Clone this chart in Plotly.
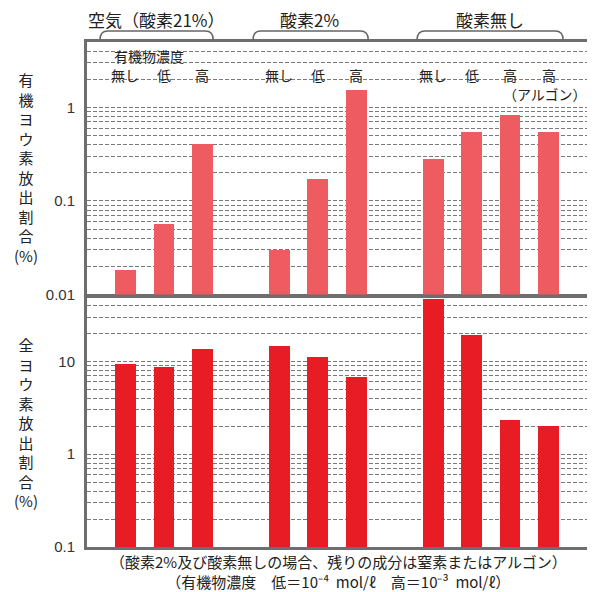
import math
import plotly.graph_objects as go

# ---------------- data ----------------
groups = ["空気（酸素21%）", "酸素2%", "酸素無し"]
levels_per_group = [["無し", "低", "高"], ["無し", "低", "高"], ["無し", "低", "高", "高"]]
organic_release = [0.0185, 0.057, 0.41, 0.030, 0.17, 1.55, 0.28, 0.55, 0.82, 0.55]   # 有機ヨウ素放出割合 (%)
total_release = [9.6, 8.8, 13.7, 14.7, 11.3, 6.8, 47.0, 19.5, 2.38, 2.05]           # 全ヨウ素放出割合 (%)
top_ticks = [0.01, 0.1, 1]
top_ticktext = ["0.01", "0.1", "1"]
bottom_ticks = [0.1, 1, 10]
bottom_ticktext = ["0.1", "1", "10"]
argon_note = "（アルゴン）"
conc_title = "有機物濃度"
ytitle_top = "有機ヨウ素放出割合"
ytitle_bottom = "全ヨウ素放出割合"
note1 = "（酸素2%及び酸素無しの場合、残りの成分は窒素またはアルゴン）"
note2 = "（有機物濃度　低＝10⁻⁴\u00a0\u00a0mol/ℓ　高＝10⁻³\u00a0\u00a0mol/ℓ）"

# slot positions derived from group / level structure
slots, labels = [], []
for gi, levs in enumerate(levels_per_group):
    for li, lv in enumerate(levs):
        slots.append(gi * 4 + li)
        labels.append(lv)

# ---------------- layout geometry ----------------
# page body has an 8px margin, so the figure is drawn 8px smaller and
# all window-pixel positions below are mapped relative to the plot area.
OFF = 8
W, H = 595 - OFF, 592 - OFF
L, R, T, B = 87, 590, 42, 547          # plot area in window pixels

def fx(x):
    return (x - L) / (R - L)

def fy(y):
    return (B - y) / (B - T)

CJK = "Noto Sans CJK JP"
NUM = "Liberation Sans, Arial"
TOP_COLOR = "#EE5B60"
BOT_COLOR = "#E81C24"
GRID = "#7a7a7a"
FRAME = "#6e6e6e"

fig = go.Figure()
fig.add_trace(go.Bar(x=slots, y=organic_release, xaxis="x2", yaxis="y2",
                     marker=dict(color=TOP_COLOR, line=dict(width=0)), width=0.54))
fig.add_trace(go.Bar(x=slots, y=total_release, xaxis="x", yaxis="y",
                     marker=dict(color=BOT_COLOR, line=dict(width=0)), width=0.54))

xcommon = dict(range=[-1, 12], showticklabels=False, showgrid=False, zeroline=False,
               showline=True, mirror=True, linewidth=3, linecolor=FRAME, ticks="")
minor = dict(dtick="D1", showgrid=True, gridcolor=GRID, griddash="4px,2px", gridwidth=1, ticks="")
ycommon = dict(type="log", showline=True, mirror=True, linewidth=3, linecolor=FRAME,
               showgrid=True, gridcolor=GRID, griddash="4px,2px", gridwidth=1,
               ticks="", ticklabelstandoff=6, zeroline=False,
               tickfont=dict(family=NUM, size=15, color="#333"), minor=minor)

top_bottom_px = 294.5
bot_top_px = 296.5
fig.update_layout(
    width=W, height=H,
    margin=dict(l=L - OFF, r=(595 - R), t=T - OFF, b=(592 - B)),
    paper_bgcolor="white", plot_bgcolor="white",
    showlegend=False, bargap=0,
    xaxis=dict(anchor="y", **xcommon),
    xaxis2=dict(anchor="y2", matches="x", **xcommon),
    yaxis=dict(domain=[0, fy(bot_top_px)], range=[-1, math.log10(50)],
               tickvals=bottom_ticks, ticktext=bottom_ticktext, **ycommon),
    yaxis2=dict(domain=[fy(top_bottom_px), 1], range=[-2, math.log10(5)],
                tickvals=top_ticks, ticktext=top_ticktext, **ycommon),
)

shapes = []
# white label boxes inside the top panel (between grid and bars)
for (x0, x1, y0, y1) in [(101, 214, 45, 85), (254, 370, 61, 85), (419, 566, 61, 85), (514, 588, 85, 104)]:
    shapes.append(dict(type="rect", xref="paper", yref="paper", x0=fx(x0), x1=fx(x1),
                       y0=fy(y1), y1=fy(y0), fillcolor="white", line=dict(width=0), layer="between"))

# group brackets above the plot
def bracket(x0, x1, ytop=31, ybot=40, r=8):
    pts = (f"M {fx(x0)},{fy(ybot)} Q {fx(x0)},{fy(ytop)} {fx(x0 + r)},{fy(ytop)} "
           f"L {fx(x1 - r)},{fy(ytop)} Q {fx(x1)},{fy(ytop)} {fx(x1)},{fy(ybot)}")
    return dict(type="path", xref="paper", yref="paper", path=pts,
                line=dict(color="#666", width=1.5), layer="above")

for (a, b) in [(100, 214), (254, 370), (419, 566)]:
    shapes.append(bracket(a, b))
fig.update_layout(shapes=shapes)

def note(x, y, text, size=14, xanchor="center", xref="paper", family=CJK):
    return dict(x=x if xref != "paper" else fx(x), y=fy(y), xref=xref, yref="paper", text=text,
                showarrow=False, xanchor=xanchor, yanchor="middle",
                font=dict(family=family, size=size, color="#222"))

ann = []
header_x = [157, 311, 492]
for g, hx in zip(groups, header_x):
    ann.append(note(hx, 20, g, size=17))
# concentration labels
ann.append(note(112, 56, conc_title, xanchor="left"))
for s, lb in zip(slots, labels):
    ann.append(note(s, 75, lb, xref="x2"))
ann.append(note(592, 94, argon_note, xanchor="right"))
# y titles
ann.append(note(26, 167, "<br>".join(list(ytitle_top)) + "<br>(%)", size=15))
ann.append(note(26, 422, "<br>".join(list(ytitle_bottom)) + "<br>(%)", size=15))
# notes (two centred lines in one text block)
ann.append(note(340, 571.5, note1 + "<br>" + note2, size=15))
fig.update_layout(annotations=ann)

fig.write_html("out.html")
